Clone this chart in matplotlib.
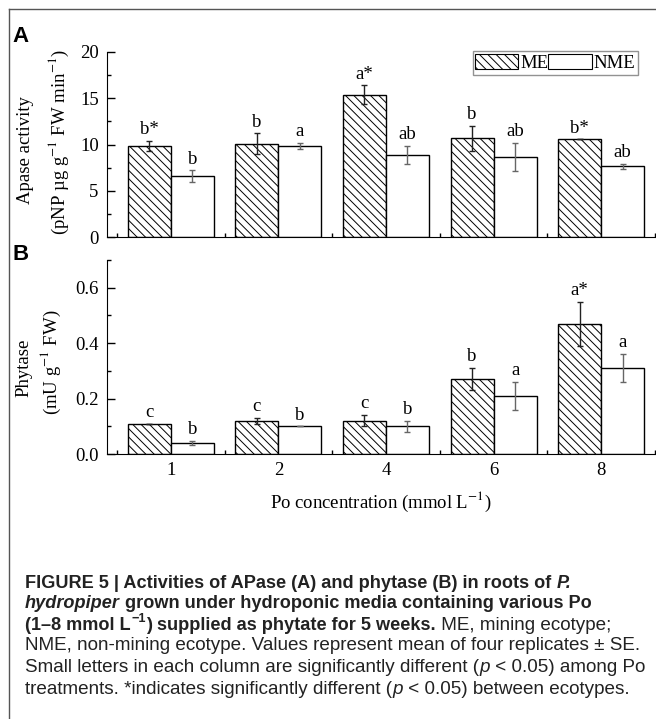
import matplotlib
matplotlib.use("Agg")
import matplotlib.pyplot as plt
import numpy as np
from matplotlib.lines import Line2D
from matplotlib.patches import Patch
from matplotlib.ticker import MultipleLocator, StrMethodFormatter

W, H = 656, 719

# ---- data ----
po_levels = ["1", "2", "4", "6", "8"]

apase_me = [9.85, 10.1, 15.4, 10.65, 10.55]
apase_me_se = [0.5, 1.1, 1.0, 1.4, 0.0]
apase_nme = [6.6, 9.85, 8.85, 8.65, 7.65]
apase_nme_se = [0.6, 0.35, 1.0, 1.5, 0.25]
apase_me_lab = ["b*", "b", "a*", "b", "b*"]
apase_nme_lab = ["b", "a", "ab", "ab", "ab"]

phyt_me = [0.11, 0.12, 0.12, 0.27, 0.47]
phyt_me_se = [0.0, 0.01, 0.02, 0.04, 0.08]
phyt_nme = [0.04, 0.10, 0.10, 0.21, 0.31]
phyt_nme_se = [0.008, 0.0, 0.02, 0.05, 0.05]
phyt_me_lab = ["c", "c", "c", "b", "a*"]
phyt_nme_lab = ["b", "b", "b", "a", "a"]

plt.rcParams["font.family"] = ["Liberation Serif", "DejaVu Serif"]
plt.rcParams["mathtext.fontset"] = "stix"
plt.rcParams["hatch.linewidth"] = 0.7
plt.rcParams["hatch.color"] = "#444444"

HATCH = "\\\\\\\\"
BW = 0.4
FS = 13.5


def fx(px):
    return px / W


def fy(py):
    return 1 - py / H


def draw_panel(ax, me, me_se, nme, nme_se, me_lab, nme_lab, ymax, major, minor):
    x = np.arange(1, len(me) + 1)
    ax.bar(x - BW / 2, me, BW, color="white", edgecolor="black", hatch=HATCH, linewidth=1.0)
    ax.bar(x + BW / 2, nme, BW, color="white", edgecolor="black", linewidth=1.0)
    ax.errorbar(x - BW / 2, me, yerr=me_se, fmt="none", ecolor="#222222",
                elinewidth=1.0, capsize=2.5, capthick=1.0)
    ax.errorbar(x + BW / 2, nme, yerr=nme_se, fmt="none", ecolor="#666666",
                elinewidth=1.0, capsize=2.5, capthick=1.0)
    for xi, v, e, t in zip(x - BW / 2, me, me_se, me_lab):
        ax.annotate(t, (xi, v + e), xytext=(0, 2), textcoords="offset points",
                    ha="center", va="bottom", fontsize=FS)
    for xi, v, e, t in zip(x + BW / 2, nme, nme_se, nme_lab):
        ax.annotate(t, (xi, v + e), xytext=(0, 2), textcoords="offset points",
                    ha="center", va="bottom", fontsize=FS)

    ax.set_xlim(0.407, 5.51)
    ax.set_ylim(0, ymax)
    ax.spines["top"].set_visible(False)
    ax.spines["right"].set_visible(False)
    ax.set_xticks(x)
    ax.set_xticks(np.arange(0.5, len(me) + 1, 1.0), minor=True)
    ax.tick_params(axis="x", which="major", length=0, labelsize=FS, pad=6)
    ax.tick_params(axis="x", which="minor", direction="in", length=3, width=1)
    ax.yaxis.set_major_locator(MultipleLocator(major))
    ax.yaxis.set_minor_locator(MultipleLocator(minor))
    ax.tick_params(axis="y", which="major", direction="in", length=6, width=1,
                   labelsize=FS, pad=6)
    ax.tick_params(axis="y", which="minor", direction="in", length=3, width=1)


fig = plt.figure(figsize=(W / 100, H / 100), dpi=100)

ax_a = fig.add_axes([fx(107), fy(237), fx(656 - 107), (237 - 52) / H])
ax_b = fig.add_axes([fx(107), fy(454), fx(656 - 107), (454 - 260) / H])

draw_panel(ax_a, apase_me, apase_me_se, apase_nme, apase_nme_se,
           apase_me_lab, apase_nme_lab, 20, 5, 2.5)
draw_panel(ax_b, phyt_me, phyt_me_se, phyt_nme, phyt_nme_se,
           phyt_me_lab, phyt_nme_lab, 0.7, 0.2, 0.1)
ax_a.set_xticklabels([])
ax_b.set_xticklabels(po_levels)
ax_a.yaxis.set_major_formatter(StrMethodFormatter("{x:.0f}"))
ax_b.yaxis.set_major_formatter(StrMethodFormatter("{x:.1f}"))

# legend
handles = [Patch(facecolor="white", edgecolor="black", hatch=HATCH, linewidth=0.8, label="ME"),
           Patch(facecolor="white", edgecolor="black", linewidth=0.8, label="NME")]
leg = ax_a.legend(handles=handles, ncol=2, loc="upper right",
                  bbox_to_anchor=(fx(638), fy(51)), bbox_transform=fig.transFigure,
                  fontsize=FS, frameon=True, fancybox=False, borderpad=0.15,
                  handlelength=2.3, handleheight=0.9, handletextpad=0.1,
                  columnspacing=0.0, borderaxespad=0)
leg.get_frame().set_edgecolor("#777777")
leg.get_frame().set_linewidth(1.0)

# y labels
fig.text(fx(26), fy(150), "Apase activity", rotation=90, ha="center", va="center", fontsize=FS)
fig.text(fx(59), fy(142), r"(pNP µg g$^{-1}$ FW min$^{-1}$)", rotation=90,
         ha="center", va="center", fontsize=FS)
fig.text(fx(24), fy(368), "Phytase", rotation=90, ha="center", va="center", fontsize=FS)
fig.text(fx(51), fy(362), r"(mU g$^{-1}$ FW)", rotation=90, ha="center", va="center", fontsize=FS)

fig.text(fx(381), fy(502), r"Po concentration (mmol L$^{-1}$)", ha="center", va="center",
         fontsize=FS)

# panel letters
fig.text(fx(12), fy(37), "A", fontsize=16, fontweight="bold",
         family=["Liberation Sans", "DejaVu Sans"], va="center", ha="left")
fig.text(fx(12), fy(255), "B", fontsize=16, fontweight="bold",
         family=["Liberation Sans", "DejaVu Sans"], va="center", ha="left")

# frame around the figure
fig.add_artist(Line2D([fx(8.5), fx(8.5)], [0, fy(9)], color="#555555", lw=1.0))
fig.add_artist(Line2D([fx(8.5), 1], [fy(9), fy(9)], color="#555555", lw=1.0))

# caption, drawn as runs of differently styled text
CAP_FAM = ["Liberation Sans", "DejaVu Sans"]
CAP_BOLD = 13.1
CAP_REG = 13.6
caption = [
    [("FIGURE 5 | Activities of APase (A) and phytase (B) in roots of ", "bold", "normal"),
     ("P.", "bold", "italic")],
    [("hydropiper", "bold", "italic"),
     (" grown under hydroponic media containing various Po", "bold", "normal")],
    [("(1–8 mmol L", "bold", "normal"), ("−1", "bold", "sup"),
     (") supplied as phytate for 5 weeks.", "bold", "normal"),
     (" ME, mining ecotype;", "normal", "normal")],
    [("NME, non-mining ecotype. Values represent mean of four replicates ± SE.", "normal", "normal")],
    [("Small letters in each column are significantly different (", "normal", "normal"),
     ("p", "normal", "italic"), (" < 0.05) among Po", "normal", "normal")],
    [("treatments. *indicates significantly different (", "normal", "normal"),
     ("p", "normal", "italic"), (" < 0.05) between ecotypes.", "normal", "normal")],
]
cap_y = [581, 602, 623, 644, 666, 687]

renderer = fig.canvas.get_renderer()
for runs, ypx in zip(caption, cap_y):
    xpx = 25
    for txt, weight, style in runs:
        size = CAP_BOLD if weight == "bold" else CAP_REG
        yy = ypx
        st = style
        if style == "sup":
            size = CAP_BOLD * 0.7
            yy = ypx - 6
            st = "normal"
            xpx += 1
        t = fig.text(fx(xpx), fy(yy), txt, fontsize=size, fontweight=weight,
                     fontstyle=st, family=CAP_FAM, ha="left", va="center_baseline",
                     color="#222222")
        bb = t.get_window_extent(renderer)
        xpx += bb.width

fig.savefig("out.png", dpi=100)
